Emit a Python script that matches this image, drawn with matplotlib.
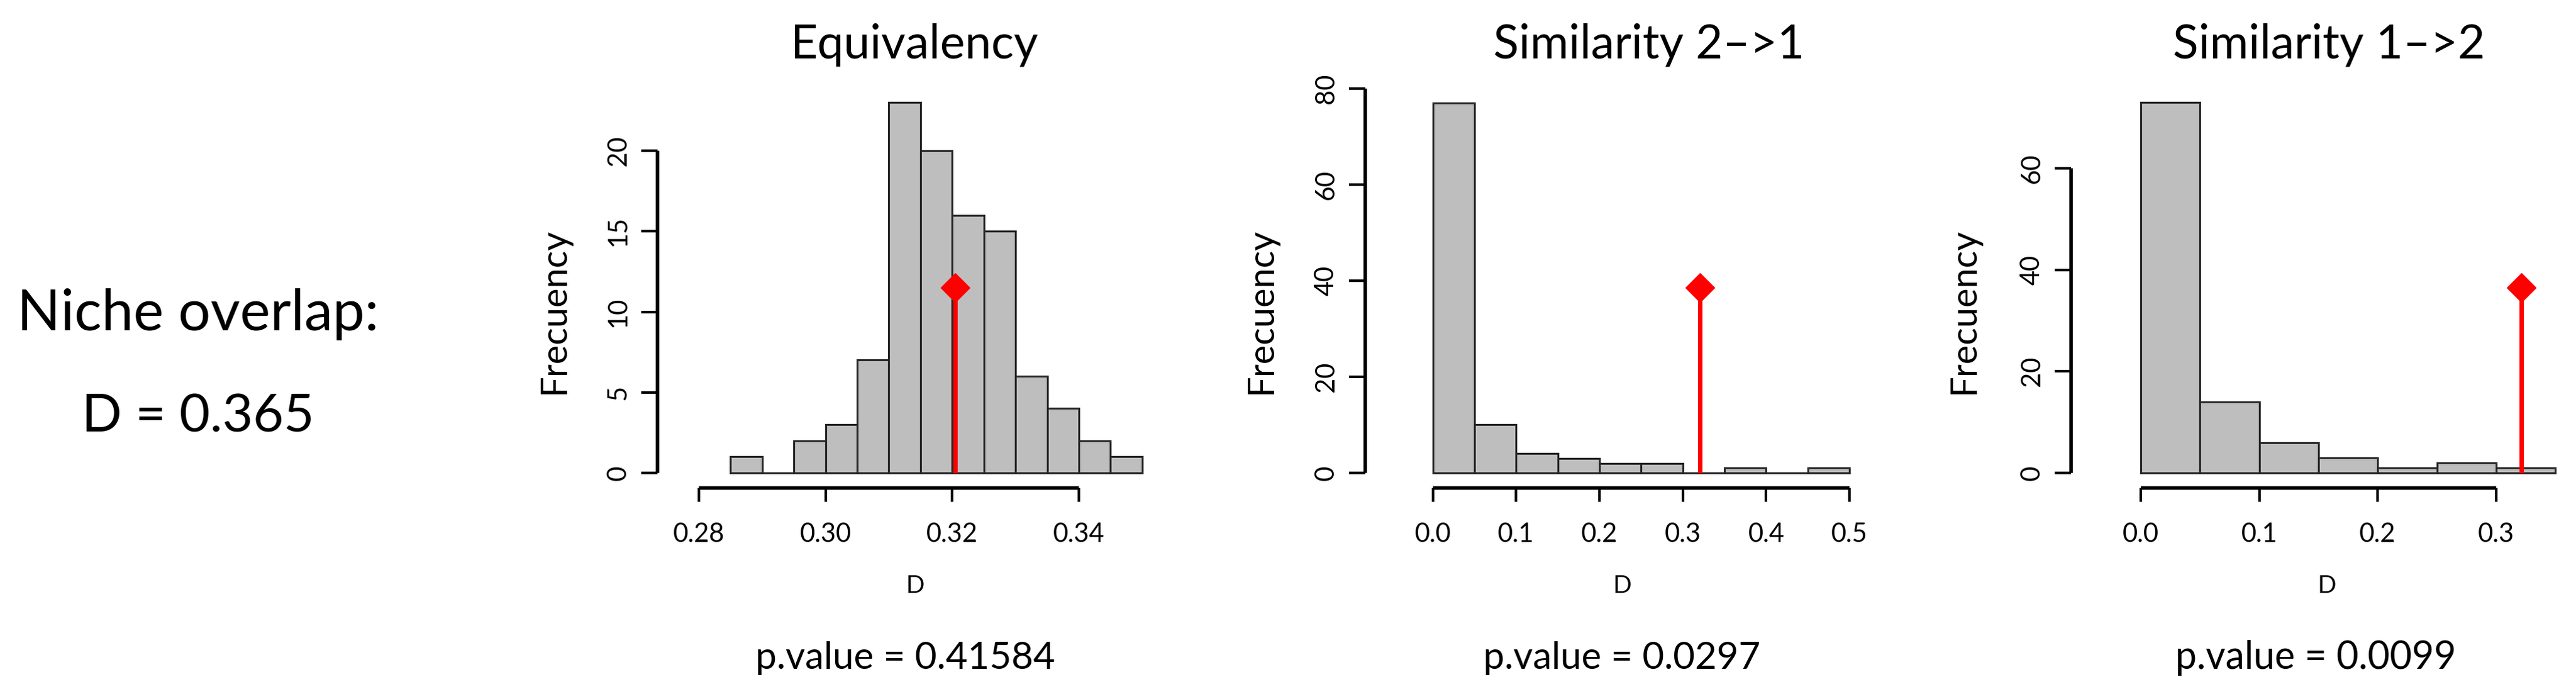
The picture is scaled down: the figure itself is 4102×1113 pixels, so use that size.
import numpy as np
import matplotlib
matplotlib.use("Agg")
import matplotlib.pyplot as plt

plt.rcParams['font.family'] = ['Lato', 'DejaVu Sans']

W, H = 4102, 1113

# histogram counts
eq_edges = [0.285, 0.290, 0.295, 0.300, 0.305, 0.310, 0.315, 0.320,
            0.325, 0.330, 0.335, 0.340, 0.345, 0.350]
eq_counts = [1, 0, 2, 3, 7, 23, 20, 16, 15, 6, 4, 2, 1]

s21_edges = [0.0, 0.05, 0.10, 0.15, 0.20, 0.25, 0.30, 0.35, 0.40, 0.45, 0.50]
s21_counts = [77, 10, 4, 3, 2, 2, 0, 1, 0, 1]

s12_edges = [0.0, 0.05, 0.10, 0.15, 0.20, 0.25, 0.30, 0.35]
s12_counts = [73, 14, 6, 3, 1, 2, 1]

obs_values = [0.3205, 0.321, 0.3215]
titles = ["Equivalency", "Similarity 2\u2013>1", "Similarity 1\u2013>2"]
pvalues = ["p.value = 0.41584", "p.value = 0.0297", "p.value = 0.0099"]

x_ticks = [[0.28, 0.30, 0.32, 0.34],
           [0.0, 0.1, 0.2, 0.3, 0.4, 0.5],
           [0.0, 0.1, 0.2, 0.3]]
x_ticklabels = [["0.28", "0.30", "0.32", "0.34"],
                ["0.0", "0.1", "0.2", "0.3", "0.4", "0.5"],
                ["0.0", "0.1", "0.2", "0.3"]]
y_ticks = [[0, 5, 10, 15, 20],
           [0, 20, 40, 60, 80],
           [0, 20, 40, 60]]

overlap_lines = ["Niche overlap:", "D = 0.365"]

# layout in pixels: plot region (left, right, bottom, top), xlim, y-axis offset,
# text centres and target text widths measured on the reference
panels = [
    dict(edges=eq_edges, counts=eq_counts, rect=(1113, 1845, 776.6, 139.5),
         xlim=(0.2824, 0.3526), yout=66,
         title_x=1456, title_w=395, ylab_x=882, dlab_x=1457, p_x=1442, p_w=478),
    dict(edges=s21_edges, counts=s21_counts, rect=(2255, 2971.5, 776.6, 140),
         xlim=(-0.02, 0.52), yout=81,
         title_x=2626, title_w=495, ylab_x=2008, dlab_x=2583, p_x=2583, p_w=442),
    dict(edges=s12_edges, counts=s12_counts, rect=(3382.6, 4088, 776.6, 139.4),
         xlim=(-0.014, 0.36), yout=85,
         title_x=3709, title_w=497, ylab_x=3127, dlab_x=3705, p_x=3688, p_w=448),
]

fig = plt.figure(figsize=(W / 100, H / 100), dpi=100)
renderer = fig.canvas.get_renderer()


def px(x, y):
    return x / W, 1 - y / H


def fit_width(t, target):
    w = t.get_window_extent(renderer).width
    t.set_fontsize(t.get_fontsize() * target / w)


for i, p in enumerate(panels):
    l, r, b, t = p['rect']
    ax = fig.add_axes([l / W, 1 - b / H, (r - l) / W, (b - t) / H])
    ax.patch.set_alpha(0)
    edges = np.array(p['edges'])
    counts = np.array(p['counts'])
    ymax = counts.max()
    ax.bar(edges[:-1], counts, width=np.diff(edges), align='edge',
           color='#bebebe', edgecolor='#262626', linewidth=2.2, zorder=2)
    obs = obs_values[i]
    ax.plot([obs, obs], [0, ymax / 2], color='red', lw=5, zorder=3,
            solid_capstyle='butt')
    ax.plot([obs], [ymax / 2], marker='D', ms=23, color='red', zorder=4)

    ax.set_xlim(*p['xlim'])
    ax.set_ylim(-0.04 * ymax, 1.04 * ymax)

    for s in ['top', 'right']:
        ax.spines[s].set_visible(False)
    ax.spines['left'].set_position(('outward', p['yout'] * 72 / 100))
    ax.spines['left'].set_bounds(y_ticks[i][0], y_ticks[i][-1])
    ax.spines['bottom'].set_bounds(x_ticks[i][0], x_ticks[i][-1])
    for s in ['left', 'bottom']:
        ax.spines[s].set_linewidth(4)
        ax.spines[s].set_capstyle('butt')

    ax.set_xticks(x_ticks[i])
    ax.set_xticklabels(x_ticklabels[i])
    ax.set_yticks(y_ticks[i])
    ax.set_yticklabels([str(v) for v in y_ticks[i]], rotation=90, va='center')
    ax.tick_params(axis='x', length=16, width=3, labelsize=30, pad=24)
    ax.tick_params(axis='y', length=19, width=3, labelsize=30, pad=12)

    tt = fig.text(*px(p['title_x'], 92), titles[i], ha='center', va='baseline', fontsize=54)
    fit_width(tt, p['title_w'])
    yl = fig.text(*px(p['ylab_x'], 495), "Frecuency", ha='center', va='center', fontsize=42)
    fit_width(yl, 265)
    yl.set_rotation(90)
    fig.text(*px(p['dlab_x'], 944), "D", ha='center', va='baseline', fontsize=28)
    pt = fig.text(*px(p['p_x'], 1065), pvalues[i], ha='center', va='baseline', fontsize=42)
    fit_width(pt, p['p_w'])

n1 = fig.text(*px(315, 526), overlap_lines[0], ha='center', va='baseline', fontsize=84)
fit_width(n1, 576)
n2 = fig.text(*px(315, 688), overlap_lines[1], ha='center', va='baseline', fontsize=84)
fit_width(n2, 371)

fig.savefig("out.png", dpi=100, facecolor='white')
